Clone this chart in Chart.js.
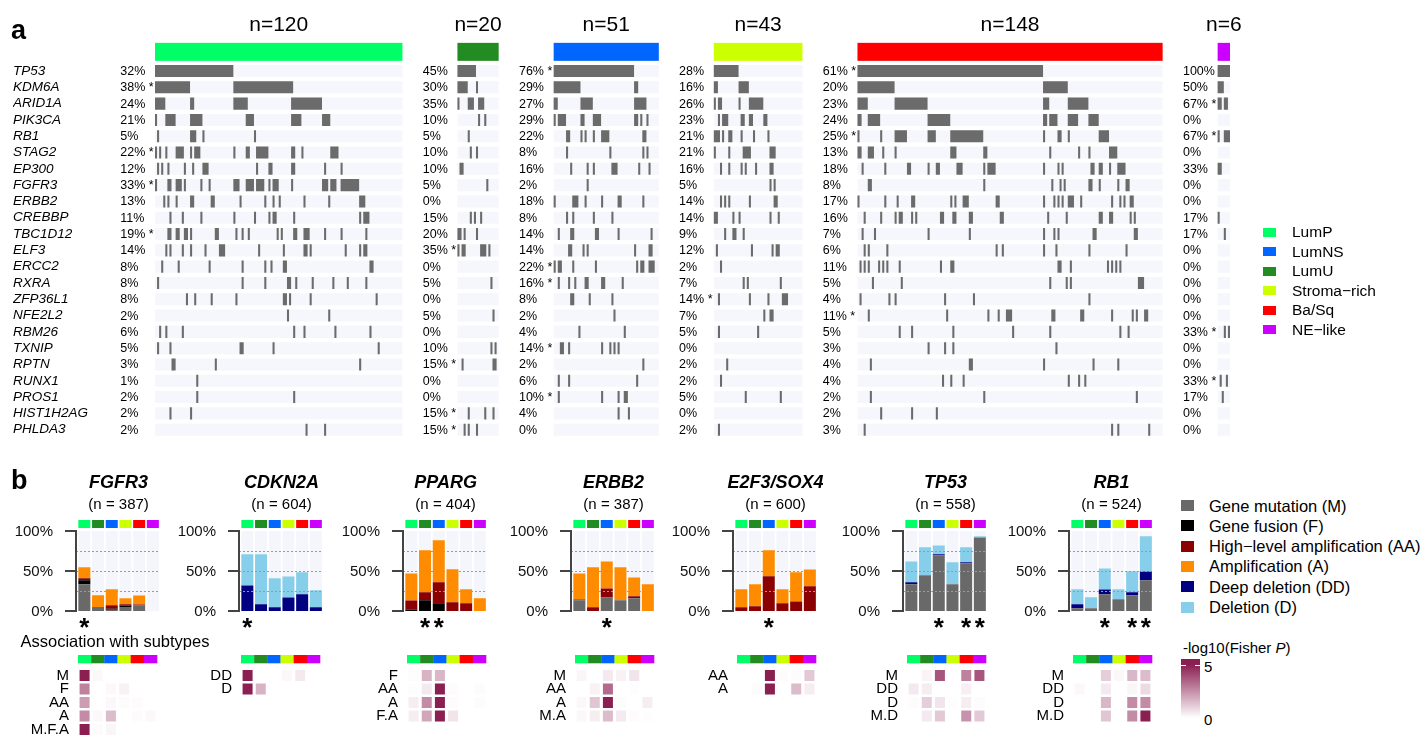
<!DOCTYPE html>
<html>
<head>
<meta charset="utf-8">
<title>Mutations and copy-number alterations by molecular subtype</title>
<script src="https://cdn.jsdelivr.net/npm/chart.js@4.4.1/dist/chart.umd.min.js"></script>
<style>
  html, body { margin: 0; padding: 0; background: #fff; }
  body { position: relative; width: 1427px; height: 736px; overflow: hidden;
         font-family: "Liberation Sans", Arial, sans-serif; color: #000; }
  canvas { position: absolute; }
  .txt { position: absolute; white-space: nowrap; line-height: 1; }
  .sw { position: absolute; }
</style>
</head>
<body>
<script>
// ---------------- shared ----------------
const SUBTYPES = ['LumP', 'LumU', 'LumNS', 'Stroma-rich', 'Ba/Sq', 'NE-like'];
const SUBTYPE_LABELS = ['LumP', 'LumU', 'LumNS', 'Stroma\u2212rich', 'Ba/Sq', 'NE\u2212like'];
const SUBTYPE_COLORS = ['#00ff66', '#228b22', '#0066ff', '#ccff00', '#ff0000', '#cc00ff'];
const LEGEND_A_ORDER = ['LumP', 'LumNS', 'LumU', 'Stroma-rich', 'Ba/Sq', 'NE-like'];

// ---------------- panel a: recurrently mutated genes ----------------
const GENES = ['TP53','KDM6A','ARID1A','PIK3CA','RB1','STAG2','EP300','FGFR3','ERBB2','CREBBP',
  'TBC1D12','ELF3','ERCC2','RXRA','ZFP36L1','NFE2L2','RBM26','TXNIP','RPTN','RUNX1','PROS1',
  'HIST1H2AG','PHLDA3'];
const GROUP_N = [120, 20, 51, 43, 148, 6];

// mutation frequency per gene (%), in GENES order
const PCT_LUMP   = [32,38,24,21,5,22,12,33,13,11,19,14,8,8,8,2,6,5,3,1,2,2,2];
const PCT_LUMU   = [45,30,35,10,5,10,10,5,0,15,20,35,0,5,0,5,0,10,15,0,0,15,15];
const PCT_LUMNS  = [76,29,27,29,22,8,16,2,18,8,14,14,22,16,8,2,4,14,2,6,10,4,0];
const PCT_STROMA = [28,16,26,23,21,21,16,5,14,14,9,12,2,7,14,7,5,0,2,2,5,0,2];
const PCT_BASQ   = [61,20,23,24,25,13,18,8,17,16,7,6,11,5,4,11,5,3,4,4,2,2,3];
const PCT_NE     = [100,50,67,0,67,0,33,0,0,17,17,0,0,0,0,0,33,0,0,33,17,0,0];

// genes flagged as enriched in each subtype
const SIG_LUMP   = ['KDM6A','STAG2','FGFR3','TBC1D12'];
const SIG_LUMU   = ['ELF3','RPTN','HIST1H2AG','PHLDA3'];
const SIG_LUMNS  = ['TP53','ERCC2','RXRA','TXNIP','PROS1'];
const SIG_STROMA = ['ZFP36L1'];
const SIG_BASQ   = ['TP53','RB1','NFE2L2'];
const SIG_NE     = ['ARID1A','RB1','RBM26','RUNX1'];

// mutated samples as [first sample, run length] within each subtype block
const MUT_LUMP = {
  TP53: [[0,38]],
  KDM6A: [[0,17],[38,29]],
  ARID1A: [[0,5],[17,2],[38,7],[66,15]],
  PIK3CA: [[0,1],[5,5],[17,6],[44,4],[66,5],[81,4]],
  RB1: [[1,1],[17,3],[23,1],[48,1]],
  STAG2: [[0,1],[2,1],[5,1],[10,4],[17,1],[19,3],[38,1],[44,2],[49,6],[66,2],[71,1],[85,4]],
  EP300: [[1,1],[3,1],[6,1],[14,1],[18,1],[23,3],[49,1],[55,2],[66,2],[82,1],[90,1]],
  FGFR3: [[0,1],[6,2],[10,3],[14,1],[22,1],[26,1],[38,3],[44,4],[49,4],[55,1],[57,3],[66,1],[81,3],[85,3],[90,9]],
  ERBB2: [[4,1],[6,1],[10,1],[17,2],[27,2],[41,1],[53,1],[57,1],[60,1],[72,1],[84,1],[99,3]],
  CREBBP: [[7,1],[13,1],[22,1],[38,1],[48,1],[55,1],[57,2],[67,1],[99,1],[101,3]],
  TBC1D12: [[6,2],[10,2],[14,2],[17,1],[29,2],[39,1],[42,1],[45,1],[59,1],[61,1],[67,2],[72,3],[82,1],[90,1],[102,1]],
  ELF3: [[5,1],[7,1],[13,1],[17,1],[24,1],[31,3],[50,1],[62,1],[72,2],[75,1],[92,1],[99,1],[101,2]],
  ERCC2: [[3,1],[11,1],[26,1],[42,1],[53,1],[56,1],[62,2],[104,2]],
  RXRA: [[1,1],[42,1],[53,1],[64,2],[68,1],[76,1],[86,1],[93,1],[102,1]],
  ZFP36L1: [[15,1],[19,1],[27,1],[39,1],[62,2],[65,1],[75,1],[107,1]],
  NFE2L2: [[64,1],[84,1]],
  RBM26: [[2,1],[5,1],[13,1],[67,1],[72,1],[87,1],[104,1]],
  TXNIP: [[1,1],[7,1],[41,2],[57,1],[108,1]],
  RPTN: [[8,2],[29,1],[99,1]],
  RUNX1: [[20,1]],
  PROS1: [[20,1],[67,1]],
  HIST1H2AG: [[7,1],[17,1]],
  PHLDA3: [[73,1],[82,1]]
};
const MUT_LUMU = {
  TP53: [[0,9]],
  KDM6A: [[0,5],[9,1]],
  ARID1A: [[0,1],[5,3],[10,3]],
  PIK3CA: [[10,1],[13,1]],
  RB1: [[5,1]],
  STAG2: [[6,1],[9,1]],
  EP300: [[1,2]],
  FGFR3: [[14,1]],
  CREBBP: [[6,1],[8,1],[11,1]],
  TBC1D12: [[0,2],[3,1],[9,1]],
  ELF3: [[0,1],[2,2],[11,3],[15,1]],
  RXRA: [[16,1]],
  NFE2L2: [[17,1]],
  TXNIP: [[16,1],[18,1]],
  RPTN: [[2,1],[17,2]],
  HIST1H2AG: [[5,1],[13,1],[17,1]],
  PHLDA3: [[3,1],[5,1],[9,1]]
};
const MUT_LUMNS = {
  TP53: [[0,39]],
  KDM6A: [[0,13],[39,2]],
  ARID1A: [[0,2],[13,6],[39,6]],
  PIK3CA: [[0,1],[2,4],[13,2],[19,4],[39,2],[42,1],[45,1]],
  RB1: [[6,2],[13,1],[15,1],[19,1],[23,4],[43,2]],
  STAG2: [[6,1],[27,1],[43,1],[45,1]],
  EP300: [[8,1],[16,1],[19,1],[28,3],[41,1],[46,1]],
  FGFR3: [[16,1]],
  ERBB2: [[0,1],[9,3],[15,1],[23,1],[31,2],[43,1]],
  CREBBP: [[6,1],[9,1],[19,1],[28,1]],
  TBC1D12: [[2,1],[8,2],[20,2],[31,1],[47,1]],
  ELF3: [[7,2],[14,1],[16,1],[39,1],[46,2]],
  ERCC2: [[0,1],[2,2],[9,1],[20,1],[40,1],[42,2],[46,3]],
  RXRA: [[2,1],[7,1],[10,1],[15,2],[23,2],[33,1]],
  ZFP36L1: [[8,2],[17,1],[28,1]],
  NFE2L2: [[29,1]],
  RBM26: [[12,1],[34,1]],
  TXNIP: [[3,2],[7,1],[23,1],[27,1],[29,1],[31,1]],
  RPTN: [[43,1]],
  RUNX1: [[2,1],[7,1],[40,1]],
  PROS1: [[2,1],[23,1],[31,1],[34,2]],
  HIST1H2AG: [[31,1],[36,1]]
};
const MUT_STROMA = {
  TP53: [[0,12]],
  KDM6A: [[0,2],[12,5]],
  ARID1A: [[0,1],[2,2],[12,1],[17,7]],
  PIK3CA: [[2,1],[4,3],[13,2],[17,2],[24,2]],
  RB1: [[0,3],[4,1],[7,2],[13,1],[19,1],[26,1]],
  STAG2: [[0,1],[7,1],[14,4],[27,3]],
  EP300: [[3,1],[7,1],[13,1],[15,1],[20,1],[27,2]],
  FGFR3: [[27,1],[29,1]],
  ERBB2: [[3,1],[5,1],[7,1],[17,1],[29,2]],
  CREBBP: [[0,2],[9,1],[12,1],[27,1],[31,1]],
  TBC1D12: [[5,1],[9,2],[14,1]],
  ELF3: [[1,1],[18,1],[28,1],[30,2]],
  ERCC2: [[3,1]],
  RXRA: [[14,1],[16,1],[32,1]],
  ZFP36L1: [[2,1],[17,1],[26,1],[33,3]],
  NFE2L2: [[24,1],[27,2]],
  RBM26: [[2,1],[21,1]],
  RPTN: [[6,1]],
  RUNX1: [[3,1]],
  PROS1: [[15,1],[32,1]],
  PHLDA3: [[2,1]]
};
const MUT_BASQ = {
  TP53: [[0,90]],
  KDM6A: [[0,18],[90,12]],
  ARID1A: [[0,5],[18,16],[90,3],[102,10]],
  PIK3CA: [[0,2],[5,6],[34,11],[90,2],[93,4],[102,5],[112,5]],
  RB1: [[0,1],[11,1],[18,6],[34,4],[45,16],[90,1],[97,2],[102,1],[117,5]],
  STAG2: [[0,2],[5,3],[12,1],[18,1],[45,3],[61,2],[93,1],[107,1],[112,1],[122,4]],
  EP300: [[2,1],[13,1],[24,2],[34,1],[38,2],[48,3],[61,1],[63,4],[90,1],[97,1],[99,1],[113,2],[117,2],[122,1],[126,4]],
  FGFR3: [[5,2],[61,1],[94,1],[98,1],[100,1],[112,2],[117,1],[126,1],[130,2]],
  ERBB2: [[0,1],[13,1],[19,1],[26,2],[45,1],[47,1],[51,3],[67,2],[90,1],[95,1],[97,1],[99,1],[102,3],[108,1],[123,1],[127,1],[129,1],[132,2]],
  CREBBP: [[3,1],[11,1],[18,1],[20,2],[26,1],[28,1],[40,2],[46,2],[54,2],[69,2],[92,1],[101,1],[117,2],[122,2],[132,1],[134,1]],
  TBC1D12: [[2,1],[8,1],[34,1],[54,1],[90,1],[95,1],[97,1],[114,2],[134,2]],
  ELF3: [[3,1],[5,1],[14,1],[67,1],[70,1],[90,1],[96,1],[112,1],[130,1]],
  ERCC2: [[1,1],[3,1],[5,1],[10,1],[12,1],[14,1],[20,1],[40,1],[45,2],[97,2],[103,1],[121,1],[123,1],[125,1],[127,1]],
  RXRA: [[7,1],[21,1],[93,1],[101,1],[103,1],[136,3]],
  ZFP36L1: [[1,1],[15,1],[18,1],[42,1],[56,1],[112,1]],
  NFE2L2: [[5,1],[43,1],[63,1],[68,1],[72,3],[94,2],[108,2],[123,1],[133,1],[135,1],[139,2]],
  RBM26: [[20,1],[26,1],[46,1],[75,1],[93,1],[127,1],[131,1]],
  TXNIP: [[34,1],[42,1],[46,1],[96,1]],
  RPTN: [[6,1],[54,2],[90,1],[114,1],[126,1]],
  RUNX1: [[41,1],[45,1],[51,1],[102,1],[107,1],[110,1]],
  PROS1: [[6,1],[61,1],[135,1]],
  HIST1H2AG: [[11,1],[26,1],[38,1]],
  PHLDA3: [[3,1],[123,1],[126,1],[141,1]]
};
const MUT_NE = {
  TP53: [[0,6]],
  KDM6A: [[0,3]],
  ARID1A: [[0,2],[3,2]],
  RB1: [[0,1],[3,3]],
  EP300: [[0,2]],
  CREBBP: [[0,1]],
  TBC1D12: [[3,1]],
  RBM26: [[3,1],[5,1]],
  RUNX1: [[1,1],[4,1]],
  PROS1: [[2,1]]
};

// ---------------- panel b: copy-number / mutation frequencies ----------------
const ALT_KEYS   = ['M', 'F', 'AA', 'A', 'DD', 'D'];
const ALT_LABELS = ['Gene mutation (M)', 'Gene fusion (F)', 'High\u2212level amplification (AA)',
                    'Amplification (A)', 'Deep deletion (DD)', 'Deletion (D)'];
const ALT_COLORS = ['#696969', '#000000', '#8b0000', '#ff8c00', '#000080', '#87ceeb'];

// % of samples per subtype (LumP, LumU, LumNS, Stroma-rich, Ba/Sq, NE-like)
const ALT_FGFR3  = { M: [33.3, 5, 1.7, 5, 7, 0], F: [5, 0, 1.2, 2, 0, 0],
                     AA: [2.5, 0, 4.2, 1.3, 1.2, 0], A: [13.8, 14.6, 20, 7.5, 11.3, 0] };
const ALT_CDKN2A = { DD: [32, 8.3, 4.6, 17, 21, 4.6], D: [38.8, 62.5, 36.2, 26, 27.5, 21.2] };
const ALT_PPARG  = { F: [2, 13.3, 9.6, 0, 0, 0], AA: [11.2, 10, 26.2, 11, 9.6, 0],
                     A: [33.8, 52.5, 52.5, 41.2, 17.5, 15.8] };
const ALT_ERBB2  = { M: [13.3, 0, 17, 13.3, 15.8, 0], AA: [1.2, 4.6, 11.2, 0, 2.5, 0],
                     A: [32.5, 50, 33.8, 41.3, 23.7, 33.3] };
const ALT_E2F3   = { AA: [4.6, 5.8, 43.3, 9.6, 12, 30.8], A: [22.5, 27.5, 32.5, 17.5, 36.3, 21.2] };
const ALT_TP53   = { M: [33.3, 44.6, 69.6, 33.3, 59.6, 92], DD: [2.5, 0, 1.2, 0, 1.2, 0],
                     D: [26.2, 35, 11.2, 27.5, 18.8, 1.3] };
const ALT_RB1    = { M: [3.3, 3.3, 20.8, 14.6, 19.6, 38.3], DD: [5, 0, 6.2, 0, 3.8, 11.2],
                     D: [18.8, 13.8, 26.2, 12.5, 26.2, 43.8] };

const B_TICKS  = [0, 50, 100];   // labelled percentages
const B_GUIDES = [25, 50, 75];   // dashed reference levels

const SIG_B_FGFR3  = ['LumP'];
const SIG_B_CDKN2A = ['LumP'];
const SIG_B_PPARG  = ['LumU', 'LumNS'];
const SIG_B_ERBB2  = ['LumNS'];
const SIG_B_E2F3   = ['LumNS'];
const SIG_B_TP53   = ['LumNS', 'Ba/Sq', 'NE-like'];
const SIG_B_RB1    = ['LumNS', 'Ba/Sq', 'NE-like'];

// -log10(Fisher P) per alteration class (rows) and subtype (columns)
const HEAT_ROWS_FGFR3 = ['M', 'F', 'AA', 'A', 'M.F.A'];
const HEAT_FGFR3 = [[5, 0.15, 0, 0, 0, 0], [2.8, 0, 0.15, 0.3, 0, 0], [2.2, 0, 0.15, 0.1, 0.1, 0],
                    [2.6, 0.15, 1.5, 0, 0.1, 0.15], [5, 0.1, 0.2, 0, 0, 0]];
const HEAT_ROWS_CDKN2A = ['DD', 'D'];
const HEAT_CDKN2A = [[5, 0, 0, 0.15, 0.5, 0], [5, 1.7, 0, 0, 0, 0]];
const HEAT_ROWS_PPARG = ['F', 'AA', 'A', 'F.A'];
const HEAT_PPARG = [[0.1, 1.7, 1.6, 0, 0, 0], [0.05, 0.5, 5, 0.1, 0, 0.1],
                    [0.4, 2.6, 5, 0.1, 0, 0.1], [0.4, 2, 5, 0.6, 0, 0]];
const HEAT_ROWS_ERBB2 = ['M', 'AA', 'A', 'M.A'];
const HEAT_ERBB2 = [[0.2, 0, 0.5, 0.3, 0.6, 0], [0, 0.3, 3.3, 0, 0.05, 0],
                    [0.15, 1.3, 5, 0.1, 0, 0.4], [0.15, 0.4, 1.5, 0.5, 0.1, 0.05]];
const HEAT_ROWS_E2F3 = ['AA', 'A'];
const HEAT_E2F3 = [[0, 0, 5, 0.1, 0.1, 1.2], [0, 0.1, 5, 0, 1.5, 0.4]];
const HEAT_ROWS_TP53 = ['M', 'DD', 'D', 'M.D'];
const HEAT_TP53 = [[0, 0.25, 3.8, 0, 2.8, 3.8], [0.5, 0.4, 0, 0, 0.35, 0],
                   [0.08, 1.1, 0.6, 0.05, 0.4, 0.08], [0, 0.5, 1.2, 0, 2.4, 1.2]];
const HEAT_ROWS_RB1 = ['M', 'DD', 'D', 'M.D'];
const HEAT_RB1 = [[0, 0, 1.1, 0.15, 1.6, 1.5], [0.15, 0, 0.5, 0, 0.2, 0.8],
                  [0, 0, 1.6, 0, 2.6, 2.6], [0, 0, 1.3, 0, 2.6, 5]];

// ================= drawing =================
const FONT = '"Liberation Sans", Arial, sans-serif';
Chart.defaults.font.family = FONT;
Chart.defaults.color = '#000';
Chart.defaults.animation = false;
Chart.defaults.plugins.legend.display = false;
Chart.defaults.plugins.tooltip.enabled = false;

function addCanvas(left, top, w, h) {
  const c = document.createElement('canvas');
  c.width = w; c.height = h;
  Object.assign(c.style, { left: left + 'px', top: top + 'px', width: w + 'px', height: h + 'px' });
  document.body.appendChild(c);
  return c;
}
function addText(html, x, baseline, size, extra) {
  const d = document.createElement('div');
  d.className = 'txt';
  d.style.left = x + 'px';
  d.style.top = (baseline - 0.8465 * size) + 'px';
  d.style.fontSize = size + 'px';
  if (extra) Object.assign(d.style, extra);
  d.innerHTML = html;
  document.body.appendChild(d);
  return d;
}
function addBox(x, y, w, h, bg) {
  const d = document.createElement('div');
  d.className = 'sw';
  Object.assign(d.style, { left: x + 'px', top: y + 'px', width: w + 'px', height: h + 'px', background: bg });
  document.body.appendChild(d);
  return d;
}

// ---- panel a ----
const BLOCK_GAP = 26.67;   // blank space between subtype blocks, in sample widths
const BLOCKS = [
  { pct: PCT_LUMP,   sig: SIG_LUMP,   mut: MUT_LUMP },
  { pct: PCT_LUMU,   sig: SIG_LUMU,   mut: MUT_LUMU },
  { pct: PCT_LUMNS,  sig: SIG_LUMNS,  mut: MUT_LUMNS },
  { pct: PCT_STROMA, sig: SIG_STROMA, mut: MUT_STROMA },
  { pct: PCT_BASQ,   sig: SIG_BASQ,   mut: MUT_BASQ },
  { pct: PCT_NE,     sig: SIG_NE,     mut: MUT_NE }
];
const offsets = [];
{
  let acc = 0;
  GROUP_N.forEach(n => { offsets.push(acc); acc += n + BLOCK_GAP; });
}
const X_END = offsets[offsets.length - 1] + GROUP_N[GROUP_N.length - 1];

const trackData = [];
const mutData = [];
GROUP_N.forEach((n, g) => {
  GENES.forEach(gene => {
    trackData.push({ y: gene, x: [offsets[g], offsets[g] + n] });
    (BLOCKS[g].mut[gene] || []).forEach(([s, len]) => {
      mutData.push({ y: gene, x: [offsets[g] + s, offsets[g] + s + len] });
    });
  });
});

const oncoAnnot = {
  id: 'oncoAnnot',
  afterDatasetsDraw(chart) {
    const { ctx, chartArea, scales: { x, y } } = chart;
    ctx.save();
    GROUP_N.forEach((n, g) => {
      const x1 = x.getPixelForValue(offsets[g]);
      const x2 = x.getPixelForValue(offsets[g] + n);
      ctx.fillStyle = SUBTYPE_COLORS[g];
      ctx.fillRect(x1, chartArea.top - 20, x2 - x1, 18);
      ctx.fillStyle = '#000';
      ctx.font = `21px ${FONT}`;
      ctx.textAlign = 'center';
      ctx.textBaseline = 'alphabetic';
      ctx.fillText('n=' + n, (x1 + x2) / 2, chartArea.top - 32);
      ctx.font = `12.5px ${FONT}`;
      ctx.textAlign = 'left';
      ctx.textBaseline = 'middle';
      const blk = BLOCKS[g];
      GENES.forEach((gene, i) => {
        const yc = y.getPixelForValue(i) + 0.5;
        const label = blk.pct[i] + '%';
        const lx = x1 - 34.7;
        ctx.fillText(label, lx, yc);
        if (blk.sig.includes(gene)) ctx.fillText('*', lx + ctx.measureText(label).width + 3.5, yc);
      });
    });
    ctx.restore();
  }
};

new Chart(addCanvas(0, 0, 1427, 447), {
  type: 'bar',
  data: {
    labels: GENES,
    datasets: [
      { data: trackData, backgroundColor: '#f6f7fc', order: 2 },
      { data: mutData, backgroundColor: '#6b6b6b', order: 1 }
    ]
  },
  options: {
    indexAxis: 'y',
    responsive: false,
    devicePixelRatio: 1,
    datasets: { bar: { grouped: false, barPercentage: 0.74, categoryPercentage: 1, borderWidth: 0 } },
    layout: { padding: { left: 13, right: 197, top: 62.85, bottom: 9.15 } },
    scales: {
      x: { type: 'linear', min: 0, max: X_END, display: false },
      y: {
        type: 'category',
        grid: { display: false },
        border: { display: false },
        ticks: { autoSkip: false, crossAlign: 'far', padding: 0, color: '#000',
                 font: { size: 13.5, style: 'italic' } },
        afterFit(scale) { scale.width = 142; }
      }
    }
  },
  plugins: [oncoAnnot]
});

// ---- panel b ----
const B_PANELS = [
  { gene: 'FGFR3',     n: 387, alt: ALT_FGFR3,  sig: SIG_B_FGFR3,  rows: HEAT_ROWS_FGFR3,  heat: HEAT_FGFR3 },
  { gene: 'CDKN2A',    n: 604, alt: ALT_CDKN2A, sig: SIG_B_CDKN2A, rows: HEAT_ROWS_CDKN2A, heat: HEAT_CDKN2A },
  { gene: 'PPARG',     n: 404, alt: ALT_PPARG,  sig: SIG_B_PPARG,  rows: HEAT_ROWS_PPARG,  heat: HEAT_PPARG },
  { gene: 'ERBB2',     n: 387, alt: ALT_ERBB2,  sig: SIG_B_ERBB2,  rows: HEAT_ROWS_ERBB2,  heat: HEAT_ERBB2 },
  { gene: 'E2F3/SOX4', n: 600, alt: ALT_E2F3,   sig: SIG_B_E2F3,   rows: HEAT_ROWS_E2F3,   heat: HEAT_E2F3 },
  { gene: 'TP53',      n: 558, alt: ALT_TP53,   sig: SIG_B_TP53,   rows: HEAT_ROWS_TP53,   heat: HEAT_TP53 },
  { gene: 'RB1',       n: 524, alt: ALT_RB1,    sig: SIG_B_RB1,    rows: HEAT_ROWS_RB1,    heat: HEAT_RB1 }
];
const B_AXIS_X = [76.3, 239.3, 403.3, 570.7, 733.3, 903.3, 1069.3];
const B_HEAT_X = [78, 241, 407, 575, 736.7, 907, 1072.7];

// titles, y axis bracket, percentage labels, dashed guides, subtype strip and significance marks
const barAnnot = {
  id: 'barAnnot',
  afterDatasetsDraw(chart, args, opts) {
    const { ctx, chartArea: ca, scales: { y } } = chart;
    const els = chart.getDatasetMeta(0).data;
    const axisX = ca.left - 1.5;
    const cx = (ca.left + ca.right) / 2;
    ctx.save();
    ctx.fillStyle = '#000';
    ctx.textAlign = 'center';
    ctx.textBaseline = 'middle';
    ctx.font = `italic bold 18px ${FONT}`;
    ctx.fillText(opts.title, cx, ca.top - 48.2);
    ctx.font = `15px ${FONT}`;
    ctx.fillText(opts.subtitle, cx, ca.top - 26.4);

    ctx.strokeStyle = '#9b9b9b';
    ctx.lineWidth = 1;
    ctx.setLineDash([2, 2]);
    B_GUIDES.forEach(v => {
      const py = Math.round(y.getPixelForValue(v)) + 0.5;
      ctx.beginPath(); ctx.moveTo(axisX, py); ctx.lineTo(ca.right, py); ctx.stroke();
    });
    ctx.setLineDash([]);
    ctx.strokeStyle = '#444';
    ctx.lineWidth = 2;
    ctx.beginPath();
    ctx.moveTo(axisX, y.getPixelForValue(100));
    ctx.lineTo(axisX, y.getPixelForValue(0));
    ctx.stroke();
    ctx.fillStyle = '#111';
    ctx.textAlign = 'right';
    B_TICKS.forEach(v => {
      const py = y.getPixelForValue(v);
      ctx.beginPath(); ctx.moveTo(axisX - 11, py); ctx.lineTo(axisX + 1, py); ctx.stroke();
      ctx.fillText(v + '%', axisX - 23, py + 0.5);
    });
    els.forEach((el, i) => {
      ctx.fillStyle = SUBTYPE_COLORS[i];
      ctx.fillRect(el.x - el.width / 2, ca.top - 11, el.width, 8);
    });
    ctx.fillStyle = '#000';
    ctx.font = `bold 26px ${FONT}`;
    ctx.textAlign = 'center';
    ctx.textBaseline = 'alphabetic';
    (opts.sig || []).forEach(name => {
      const el = els[SUBTYPES.indexOf(name)];
      ctx.fillText('*', el.x, ca.bottom + 24.6);
    });
    ctx.restore();
  }
};

const heatStrip = {
  id: 'heatStrip',
  afterDraw(chart) {
    const { ctx, chartArea, scales: { x } } = chart;
    ctx.save();
    SUBTYPES.forEach((s, i) => {
      const x1 = x.getPixelForValue(i - 0.5), x2 = x.getPixelForValue(i + 0.5);
      ctx.fillStyle = SUBTYPE_COLORS[i];
      ctx.fillRect(x1, chartArea.top - 13.75, x2 - x1 + 0.3, 8.3);
    });
    ctx.restore();
  }
};

function heatColor(v) {
  const t = Math.max(0, Math.min(1, v / 5));
  const r = Math.round(255 + (139 - 255) * t);
  const g = Math.round(255 + (31 - 255) * t);
  const b = Math.round(255 + (82 - 255) * t);
  return `rgb(${r},${g},${b})`;
}

B_PANELS.forEach((p, idx) => {
  // stacked frequency bars
  const datasets = [{ label: 'bg', data: SUBTYPES.map(() => 100), stack: 'bg', backgroundColor: '#f5f6fb', order: 10 }];
  ALT_KEYS.forEach((k, j) => {
    if (p.alt[k]) datasets.push({ label: ALT_LABELS[j], data: p.alt[k], stack: 'alt', backgroundColor: ALT_COLORS[j], order: 1 });
  });
  const ax = B_AXIS_X[idx];
  new Chart(addCanvas(ax - 76, 460, 166, 180), {
    type: 'bar',
    data: { labels: SUBTYPES, datasets },
    options: {
      responsive: false,
      devicePixelRatio: 1,
      datasets: { bar: { grouped: false, barPercentage: 0.876, categoryPercentage: 1, borderWidth: 0 } },
      layout: { padding: { left: 77.5, right: 6.3, top: 71, bottom: 29 } },
      plugins: {
        barAnnot: { sig: p.sig, title: p.gene, subtitle: '(n = ' + p.n + ')' }
      },
      scales: {
        x: { display: false },
        y: { display: false, stacked: true, min: 0, max: 100 }
      }
    },
    plugins: [barAnnot]
  });

  // association heatmap
  const nRows = p.rows.length;
  const hx = B_HEAT_X[idx];
  const heatSets = SUBTYPES.map((s, si) => ({
    label: s,
    data: p.rows.map(() => [si - 0.38, si + 0.38]),
    backgroundColor: p.heat.map(row => heatColor(row[si]))
  }));
  const hH = Math.ceil(20.75 + nRows * 13.5 + 20);
  new Chart(addCanvas(hx - 60, 648, 144, hH), {
    type: 'bar',
    data: { labels: p.rows, datasets: heatSets },
    options: {
      indexAxis: 'y',
      responsive: false,
      devicePixelRatio: 1,
      datasets: { bar: { grouped: false, barPercentage: 0.8, categoryPercentage: 1, borderWidth: 0 } },
      layout: { padding: { left: 0, right: 5, top: 20.75, bottom: hH - 20.75 - nRows * 13.5 } },
      scales: {
        x: { type: 'linear', min: -0.5, max: 5.5, display: false },
        y: {
          type: 'category',
          grid: { display: false, drawTicks: false },
          border: { display: false },
          ticks: { autoSkip: false, padding: 9, color: '#000', font: { size: 15 } },
          afterFit(scale) { scale.width = 60; }
        }
      }
    },
    plugins: [heatStrip]
  });
});

// ---- static labels and legends ----
addText('a', 11, 40, 27, { fontWeight: 'bold' });
addText('b', 11, 490, 27, { fontWeight: 'bold' });
addText('Association with subtypes', 20.5, 646.5, 16.5);

LEGEND_A_ORDER.forEach((name, i) => {
  const si = SUBTYPES.indexOf(name);
  const cy = 232.2 + i * 19.5;
  addBox(1263, cy - 4.5, 13, 9, SUBTYPE_COLORS[si]);
  addText(SUBTYPE_LABELS[si], 1292, cy + 5.2, 15.5);
});

ALT_LABELS.forEach((label, i) => {
  const cy = 505.5 + i * 20.3;
  addBox(1181, cy - 5.5, 13, 11, ALT_COLORS[i]);
  addText(label, 1209, cy + 6, 16.5);
});

// colour key for the association heatmaps
addText('-log10(Fisher <i>P</i>)', 1183, 653, 15);
addBox(1181, 659, 19, 64,
  'linear-gradient(to bottom, rgb(139,31,82) 0%, rgb(139,31,82) 9%, rgb(255,255,255) 92%, rgb(255,255,255) 100%)');
[665, 718].forEach(y => { addBox(1181, y, 5, 1, '#fff'); addBox(1195, y, 5, 1, '#fff'); });
addText('5', 1204, 671.5, 15);
addText('0', 1204, 725, 15);
</script>
</body>
</html>
